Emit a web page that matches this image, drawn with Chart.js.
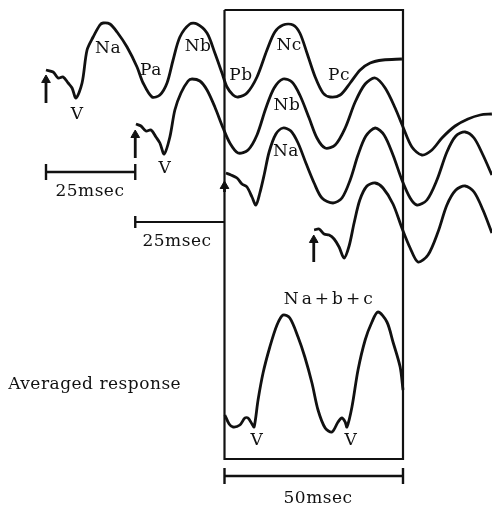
<!DOCTYPE html>
<html>
<head>
<meta charset="utf-8">
<script src="https://cdn.jsdelivr.net/npm/chart.js@4/dist/chart.umd.min.js"></script>
<style>
  html, body { margin: 0; padding: 0; background: #fff; }
  #wrap { width: 492px; height: 507px; position: relative; }
</style>
</head>
<body>
<div id="wrap"><canvas id="chart"></canvas></div>
<script>
// Time in msec (0 = first stimulus), amplitude in arbitrary units (up = positive)

// Response to 1st stimulus
const time1 = [0, 2.0, 3.4, 4.8, 6.2, 7.3, 8.4, 10.1, 11.5, 13.2, 15.1, 16.0, 17.9, 19.9, 22.7, 25.5, 27.2, 29.7, 31.9, 33.9, 35.6, 37.5, 40.3, 42.3, 45.1, 47.3, 49.3, 50.7, 52.4, 53.8, 56.3, 59.1, 61.9, 64.1, 66.4, 69.2, 71.1, 73.1, 75.4, 77.6, 79.6, 82.4, 85.2, 88.0, 90.8, 94.4, 99.7];
const amp1 = [0, -2, -8, -7, -13, -18, -28, -13, 20, 33, 45, 47, 46, 38, 23, 3, -13, -27, -25, -13, 10, 33, 46, 46, 37, 17, -3, -17, -25, -27, -23, -7, 20, 38, 45, 45, 37, 17, -7, -23, -27, -25, -13, 0, 7, 10, 11];

// Response to 2nd stimulus
const time2 = [25.2, 26.6, 28.0, 29.4, 30.8, 31.9, 33.1, 34.7, 36.1, 37.8, 39.8, 40.9, 43.1, 45.1, 47.3, 49.6, 51.5, 53.8, 56.6, 59.1, 61.6, 63.9, 66.4, 68.9, 71.1, 73.7, 75.9, 78.2, 81.0, 83.8, 86.6, 89.4, 92.2, 95.0, 97.8, 100.0, 102.5, 105.3, 108.1, 110.9, 114.6, 118.2, 121.6, 124.9];
const amp2 = [0, -2, -7, -6, -13, -19, -30, -13, 14, 31, 43, 45, 43, 34, 17, -4, -19, -29, -26, -11, 16, 36, 45, 42, 29, 6, -14, -24, -21, -4, 22, 40, 46, 36, 16, -3, -23, -31, -26, -14, -2, 5, 9, 10];

// Response to 3rd stimulus
const time3 = [50.4, 51.8, 53.5, 54.9, 56.3, 57.7, 58.8, 59.9, 61.1, 62.5, 64.4, 66.4, 68.6, 70.6, 72.8, 75.1, 77.3, 80.4, 82.9, 85.2, 87.4, 89.6, 92.2, 94.7, 97.2, 99.7, 102.0, 103.9, 106.7, 109.5, 112.3, 114.8, 117.4, 119.9, 122.4, 124.9];
const amp3 = [0, -2, -5, -11, -14, -24, -32, -20, -2, 21, 39, 45, 42, 30, 10, -10, -25, -30, -25, -7, 18, 37, 45, 38, 18, -7, -25, -32, -27, -7, 21, 37, 41, 35, 18, -2];

// Response to 4th stimulus
const time4 = [75.1, 76.5, 77.9, 79.3, 80.7, 82.1, 83.5, 84.9, 86.3, 87.9, 89.9, 92.2, 94.4, 97.2, 99.7, 102.0, 104.2, 107.0, 109.8, 112.3, 114.8, 117.4, 119.9, 122.4, 124.9];
const amp4 = [0, 1, -4, -5, -9, -17, -28, -16, 7, 30, 44, 47, 42, 26, 2, -18, -32, -25, -2, 25, 40, 44, 38, 20, -3];

// Averaged response (50 msec window)
const timeAvg = [50.1, 51.3, 52.4, 54.3, 55.7, 56.6, 57.7, 58.3, 59.4, 60.8, 62.7, 64.7, 66.4, 68.3, 70.6, 72.5, 74.5, 76.2, 78.2, 80.1, 81.8, 82.9, 83.8, 84.3, 85.7, 87.4, 89.4, 91.3, 93.0, 95.5, 97.2, 99.2, 100.0];
const ampAvg = [0, -9, -12, -10, -3, -3, -9, -12, 15, 42, 68, 90, 100, 97, 78, 58, 32, 5, -13, -17, -7, -3, -7, -12, 8, 45, 75, 93, 103, 93, 73, 48, 25];

// Stimulus onsets and scale bars (msec)
const stimulusTimes = [0, 25, 50, 75];
const windowTimes = [50, 100];
const scaleBar25 = [0, 25];
const scaleBar50 = [50, 100];

// Vertical placement of each trace on the page
const traceBaselines = [70, 124, 173, 230];
const avgBaseline = 415;

const ink = "#111";

function toPoints(times, amps, base) {
  return times.map((t, i) => ({ x: t, y: amps[i] - base }));
}

function traceDataset(points, width) {
  return {
    data: points,
    borderColor: ink,
    borderWidth: width,
    pointRadius: 0,
    tension: 0.3,
    fill: false,
    clip: false,
  };
}

function lineDataset(points, width, pointOpts) {
  return Object.assign({
    data: points,
    borderColor: ink,
    backgroundColor: ink,
    borderWidth: width,
    pointRadius: 0,
    tension: 0,
    fill: false,
    clip: false,
  }, pointOpts || {});
}

const datasets = [];

// traces
const traces = [[time1, amp1], [time2, amp2], [time3, amp3], [time4, amp4]];
traces.forEach(([t, a], i) => {
  datasets.push(traceDataset(toPoints(t, a, traceBaselines[i]), 2.8));
});
datasets.push(traceDataset(toPoints(timeAvg, ampAvg, avgBaseline), 2.8));

// 50 msec window box
datasets.push(lineDataset([
  { x: windowTimes[0], y: -10 },
  { x: windowTimes[1], y: -10 },
  { x: windowTimes[1], y: -459 },
  { x: windowTimes[0], y: -459 },
  { x: windowTimes[0], y: -10 },
], 2.2));

// stimulus arrows (line with a triangle head)
const arrowSpans = [[103, 80], [158, 135], [192, 186], [262, 240]];
stimulusTimes.forEach((t, i) => {
  const [bottom, top] = arrowSpans[i];
  datasets.push(lineDataset([{ x: t, y: -bottom }, { x: t, y: -top }], 2.8, {
    pointStyle: "triangle",
    pointRadius: [0, 5],
    pointBorderWidth: 1,
  }));
});

// scale bars with end ticks
const tickStyle = { pointStyle: "line", rotation: 90, pointBorderWidth: 2.4 };
datasets.push(lineDataset([{ x: scaleBar25[0], y: -172 }, { x: scaleBar25[1], y: -172 }], 2.4,
  Object.assign({ pointRadius: 8 }, tickStyle)));
datasets.push(lineDataset([{ x: scaleBar25[1], y: -222 }, { x: windowTimes[0], y: -222 }], 2.2,
  Object.assign({ pointRadius: [6, 0] }, tickStyle)));
datasets.push(lineDataset([{ x: scaleBar50[0], y: -476 }, { x: scaleBar50[1], y: -476 }], 2.4,
  Object.assign({ pointRadius: 8 }, tickStyle)));

// text annotations placed in data coordinates
const labels = [
  { text: "Na", x: 17.4, y: -49 },
  { text: "Nb", x: 42.6, y: -47 },
  { text: "Pa", x: 29.4, y: -71 },
  { text: "Pb", x: 54.6, y: -76 },
  { text: "Nc", x: 68.1, y: -46 },
  { text: "Pc", x: 82.1, y: -76 },
  { text: "Nb", x: 67.5, y: -106 },
  { text: "Na", x: 67.2, y: -152 },
  { text: "V", x: 8.7, y: -115 },
  { text: "V", x: 33.3, y: -169 },
  { text: "25msec", x: 12.3, y: -192 },
  { text: "25msec", x: 36.7, y: -242 },
  { text: "Na+b+c", x: 79.5, y: -300, spacing: "3px" },
  { text: "V", x: 59.1, y: -441 },
  { text: "V", x: 85.4, y: -441 },
  { text: "50msec", x: 76.2, y: -499 },
  { text: "Averaged response", x: -10.6, y: -385, align: "left" },
];

const labelPlugin = {
  id: "labels",
  afterDatasetsDraw(chart) {
    const { ctx, scales } = chart;
    ctx.save();
    ctx.fillStyle = ink;
    ctx.font = "17px 'DejaVu Serif'";
    ctx.textBaseline = "middle";
    labels.forEach((l) => {
      ctx.textAlign = l.align || "center";
      ctx.letterSpacing = l.spacing || "0.5px";
      ctx.fillText(l.text, scales.x.getPixelForValue(l.x), scales.y.getPixelForValue(l.y));
    });
    ctx.restore();
  },
};

new Chart(document.getElementById("chart"), {
  type: "line",
  data: { datasets },
  options: {
    responsive: true,
    maintainAspectRatio: false,
    animation: false,
    layout: { padding: 0, autoPadding: false },
    plugins: {
      legend: { display: false },
      tooltip: { enabled: false },
    },
    scales: {
      x: { type: "linear", min: -12.885, max: 124.93, display: false },
      y: { type: "linear", min: -507, max: 0, display: false },
    },
  },
  plugins: [labelPlugin],
});
</script>
</body>
</html>
